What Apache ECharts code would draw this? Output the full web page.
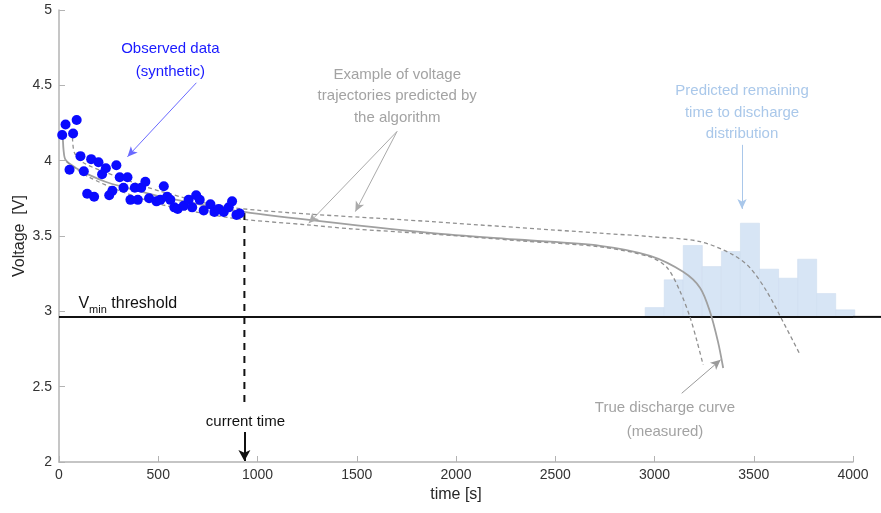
<!DOCTYPE html>
<html>
<head>
<meta charset="utf-8">
<script src="https://cdn.jsdelivr.net/npm/echarts@6/dist/echarts.min.js"></script>
<style>html,body{margin:0;padding:0;background:#fff}#c{width:881px;height:513px}</style>
</head>
<body>
<div id="c"></div>
<script>
// ---- data ----
const obsTime = [16,33,89,71,108,53,125,162,199,236,217,289,306,345,142,177,253,269,325,360,397,382,414,435,528,454,491,511,545,561,581,598,628,653,691,709,671,729,763,783,805,830,855,872,894,910];
const obsVolt = [4.17,4.24,4.27,4.18,4.03,3.94,3.93,4.01,3.99,3.95,3.91,3.97,3.89,3.89,3.78,3.76,3.77,3.80,3.82,3.74,3.74,3.82,3.82,3.86,3.83,3.75,3.73,3.74,3.76,3.74,3.69,3.68,3.70,3.74,3.77,3.74,3.69,3.67,3.71,3.66,3.68,3.66,3.69,3.73,3.64,3.65];

const trueTime = [12,18,23,33,83,149,234,320,521,863,1216,1870,2323,2726,2978,3144,3230,3280,3320,3346];
const trueVolt = [4.20,4.17,4.07,4.006,3.953,3.907,3.860,3.827,3.760,3.674,3.614,3.521,3.475,3.435,3.368,3.262,3.155,2.996,2.797,2.624];

const predATime = [38,149,320,521,863,1251,1468,1870,2323,2726,2978,3064,3130,3180,3215,3245];
const predAVolt = [3.993,3.893,3.793,3.707,3.621,3.574,3.548,3.514,3.468,3.428,3.361,3.289,3.129,2.957,2.797,2.645];

const predBTime = [68,78,123,295,521,863,1870,2726,2978,3230,3396,3481,3567,3648,3734];
const predBVolt = [4.152,4.052,3.986,3.893,3.793,3.689,3.596,3.519,3.496,3.463,3.375,3.289,3.129,2.930,2.711];

const histStart = 2953;
const histBinWidth = 96;
const histTops = [3.025,3.209,3.437,3.297,3.397,3.585,3.280,3.220,3.346,3.118,3.010];

const vMin = 2.963;
const currentTime = 934;

const xTicks = {min: 0, max: 4000, interval: 500};
const yTicks = {min: 2, max: 5, interval: 0.5};

// ---- build ----
const zip = (a, b) => a.map((v, i) => [v, b[i]]);
const histData = histTops.map((top, i) => [histStart + i * histBinWidth, histStart + (i + 1) * histBinWidth, top]);

const FONT = 'Liberation Sans, Arial, sans-serif';
const GRAY_TXT = '#a3a3a3';
const chart = echarts.init(document.getElementById('c'), null, {renderer: 'canvas'});

const option = {
  animation: false,
  backgroundColor: '#fff',
  textStyle: {fontFamily: FONT},
  grid: {left: 59, right: 28, top: 10, bottom: 51, containLabel: false, outerBoundsMode: 'none'},
  xAxis: {
    type: 'value', min: xTicks.min, max: xTicks.max, interval: xTicks.interval,
    name: 'time [s]', nameLocation: 'middle', nameGap: 24,
    nameTextStyle: {fontSize: 16, color: '#262626', fontFamily: FONT},
    axisLine: {lineStyle: {color: '#b3b3b3', width: 1.5}},
    axisTick: {inside: true, length: 6, lineStyle: {color: '#b3b3b3'}},
    axisLabel: {fontSize: 14, color: '#333', margin: 6, fontFamily: FONT, formatter: v => String(v)},
    splitLine: {show: false}
  },
  yAxis: {
    type: 'value', min: yTicks.min, max: yTicks.max, interval: yTicks.interval,
    name: 'Voltage  [V]', nameLocation: 'middle', nameGap: 31, nameMoveOverlap: false,
    nameTextStyle: {fontSize: 16, color: '#262626', fontFamily: FONT},
    axisLine: {show: true, lineStyle: {color: '#b3b3b3', width: 1.5}},
    axisTick: {show: true, inside: true, length: 6, lineStyle: {color: '#b3b3b3'}},
    axisLabel: {fontSize: 14, color: '#333', margin: 7, fontFamily: FONT, formatter: v => String(v)},
    splitLine: {show: false}
  },
  series: [
    {
      type: 'custom', name: 'hist', z: 1,
      data: histData,
      renderItem: function (params, api) {
        const p0 = api.coord([api.value(0), api.value(2)]);
        const p1 = api.coord([api.value(1), vMin]);
        return {type: 'rect', shape: {x: p0[0], y: p0[1], width: p1[0] - p0[0], height: p1[1] - p0[1]},
          style: {fill: '#d7e5f5', stroke: '#cfdef0', lineWidth: 0.6}};
      }
    },
    {
      type: 'line', name: 'threshold', z: 3, clip: false, symbol: 'none',
      data: [[0, vMin], [4000, vMin]],
      lineStyle: {color: '#111', width: 2}
    },
    {
      type: 'line', name: 'true', z: 4, symbol: 'none', smooth: 0.3,
      data: zip(trueTime, trueVolt),
      lineStyle: {color: '#a0a0a0', width: 1.8}
    },
    {
      type: 'line', name: 'predA', z: 4, symbol: 'none', smooth: 0.3,
      data: zip(predATime, predAVolt),
      lineStyle: {color: '#909090', width: 1.3, type: [4, 3]}
    },
    {
      type: 'line', name: 'predB', z: 4, symbol: 'none', smooth: 0.3,
      data: zip(predBTime, predBVolt),
      lineStyle: {color: '#909090', width: 1.3, type: [4, 3]}
    },
    {
      type: 'line', name: 'current', z: 5, symbol: 'none',
      data: [[currentTime, 3.653], [currentTime, 2.378]],
      lineStyle: {color: '#111', width: 2, type: [7, 6]},
      markLine: {
        silent: true, symbol: ['none', 'arrow'], symbolSize: [9, 11], label: {show: false},
        lineStyle: {color: '#111', width: 2, type: 'solid'},
        data: [[{coord: [currentTime, 2.199]}, {coord: [currentTime, 2.007]}]]
      }
    },
    {
      type: 'scatter', name: 'obs', z: 6, symbolSize: 10,
      data: zip(obsTime, obsVolt),
      itemStyle: {color: '#0a0aff', opacity: 1}
    },
    {
      type: 'line', name: 'annot', z: 7, symbol: 'none', data: [],
      markLine: {
        silent: true, symbol: ['none', 'arrow'], symbolSize: [7, 10], label: {show: false}, animation: false,
        data: [
          [{coord: [692, 4.517], lineStyle: {color: '#6a6aff', width: 1, type: 'solid'}}, {coord: [345, 4.026]}],
          [{coord: [1703, 4.194], lineStyle: {color: '#aaaaaa', width: 1, type: 'solid'}}, {coord: [1258, 3.585]}],
          [{coord: [1703, 4.194], lineStyle: {color: '#aaaaaa', width: 1, type: 'solid'}}, {coord: [1493, 3.662]}],
          [{coord: [3441, 4.105], lineStyle: {color: '#a9c7ea', width: 1, type: 'solid'}}, {coord: [3441, 3.680]}],
          [{coord: [3137, 2.456], lineStyle: {color: '#9a9a9a', width: 1, type: 'solid'}}, {coord: [3333, 2.678]}]
        ]
      }
    }
  ]
};
chart.setOption(option);

// text annotations anchored in data coordinates
const notes = [
  {t: 561, v: 4.740, text: 'Observed data', color: '#1a1aff'},
  {t: 561, v: 4.590, text: '(synthetic)', color: '#1a1aff'},
  {t: 1704, v: 4.570, text: 'Example of voltage', color: GRAY_TXT},
  {t: 1704, v: 4.427, text: 'trajectories predicted by', color: GRAY_TXT},
  {t: 1704, v: 4.284, text: 'the algorithm', color: GRAY_TXT},
  {t: 3441, v: 4.465, text: 'Predicted remaining', color: '#aac8ea'},
  {t: 3441, v: 4.318, text: 'time to discharge', color: '#aac8ea'},
  {t: 3441, v: 4.176, text: 'distribution', color: '#aac8ea'},
  {t: 3053, v: 2.359, text: 'True discharge curve', color: GRAY_TXT},
  {t: 3053, v: 2.200, text: '(measured)', color: GRAY_TXT},
  {t: 939, v: 2.266, text: 'current time', color: '#111'}
];
const graphics = notes.map(n => {
  const p = chart.convertToPixel({gridIndex: 0}, [n.t, n.v]);
  return {type: 'text', x: p[0], y: p[1], z: 100,
    style: {text: n.text, fill: n.color, fontSize: 15, fontFamily: FONT, align: 'center', verticalAlign: 'middle'}};
});
// threshold line continues past the axis end to the right edge of the figure
const pEnd = chart.convertToPixel({gridIndex: 0}, [4000, vMin]);
graphics.push({type: 'line', z: 50, shape: {x1: pEnd[0], y1: pEnd[1], x2: chart.getWidth(), y2: pEnd[1]},
  style: {stroke: '#111', lineWidth: 2}});
const pv = chart.convertToPixel({gridIndex: 0}, [98, 3.063]);
graphics.push({type: 'text', x: pv[0], y: pv[1], z: 100,
  style: {
    text: '{a|V}{b|min}{a| threshold}', verticalAlign: 'middle', align: 'left',
    rich: {
      a: {fontSize: 16, fill: '#111', fontFamily: FONT, verticalAlign: 'bottom', lineHeight: 20},
      b: {fontSize: 11, fill: '#111', fontFamily: FONT, verticalAlign: 'bottom', lineHeight: 14, padding: [0, 0, -4, 0]}
    }
  }});
chart.setOption({graphic: graphics});
</script>
</body>
</html>
